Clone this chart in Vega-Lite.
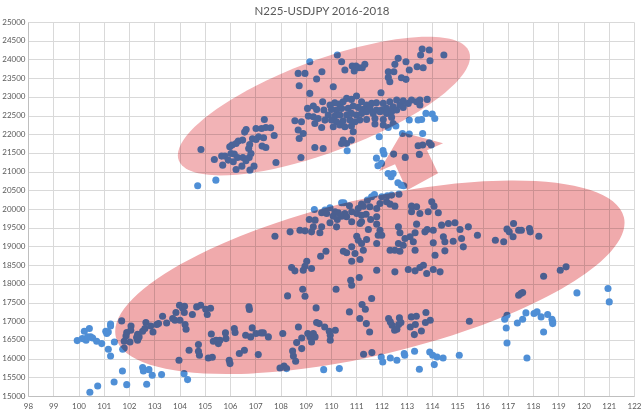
{
"$schema": "https://vega.github.io/schema/vega-lite/v6.json",
"width": 606, "height": 374,
"autosize": {"type": "none"},
"padding": {"left": 28, "top": 22, "right": 10, "bottom": 17},
"background": "white",
"title": {"text": "N225-USDJPY  2016-2018", "fontSize": 11.5, "font": "Lato", "fontWeight": "normal", "color": "#595959", "anchor": "middle", "dx": -9, "offset": 1},
"config": {"view": {"stroke": null},
  "axis": {"grid": true, "gridColor": "#d9d9d9", "gridWidth": 1, "domainColor": "#bfbfbf", "ticks": false, "labelFont": "Lato", "labelFontSize": 8, "labelColor": "#595959", "title": null, "labelOverlap": false}},
"datasets": {
"shapes": [
 {"shape": "upper ellipse", "usdjpy": 109.72, "n225": 22752},
 {"shape": "lower ellipse", "usdjpy": 111.54, "n225": 18176},
 {"shape": "arrow", "usdjpy": 113.17, "n225": 21387}
],
"points": [
{"usdjpy":108.70,"n225":23626},{"usdjpy":108.97,"n225":23626},{"usdjpy":109.64,"n225":23671},{"usdjpy":109.43,"n225":23474},{"usdjpy":108.74,"n225":23296},{"usdjpy":109.16,"n225":23091},{"usdjpy":109.67,"n225":22868},{"usdjpy":109.30,"n225":22752},{"usdjpy":109.07,"n225":22690},{"usdjpy":109.43,"n225":22663},{"usdjpy":109.72,"n225":22645},{"usdjpy":109.10,"n225":22484},{"usdjpy":109.30,"n225":22467},{"usdjpy":109.49,"n225":22422},{"usdjpy":109.76,"n225":22377},{"usdjpy":108.57,"n225":22360},{"usdjpy":108.83,"n225":22333},{"usdjpy":109.36,"n225":22288},{"usdjpy":109.63,"n225":22181},{"usdjpy":108.70,"n225":22110},{"usdjpy":108.90,"n225":22021},{"usdjpy":108.74,"n225":21887},{"usdjpy":109.36,"n225":21646},{"usdjpy":109.69,"n225":21619},{"usdjpy":108.81,"n225":21378},{"usdjpy":109.16,"n225":23938},
{"usdjpy":107.36,"n225":22395},{"usdjpy":107.03,"n225":22154},{"usdjpy":107.25,"n225":22154},{"usdjpy":107.42,"n225":22181},{"usdjpy":107.61,"n225":22172},{"usdjpy":106.64,"n225":22128},{"usdjpy":106.58,"n225":22056},{"usdjpy":107.75,"n225":21967},{"usdjpy":107.13,"n225":21931},{"usdjpy":107.33,"n225":21905},{"usdjpy":106.89,"n225":21878},{"usdjpy":107.03,"n225":21860},{"usdjpy":106.50,"n225":21842},{"usdjpy":106.33,"n225":21815},{"usdjpy":106.24,"n225":21753},{"usdjpy":106.08,"n225":21708},{"usdjpy":105.99,"n225":21664},{"usdjpy":106.78,"n225":21726},{"usdjpy":107.27,"n225":21682},{"usdjpy":107.42,"n225":21646},{"usdjpy":104.85,"n225":21593},{"usdjpy":106.74,"n225":21619},{"usdjpy":106.04,"n225":21485},{"usdjpy":106.17,"n225":21468},{"usdjpy":105.80,"n225":21414},{"usdjpy":105.67,"n225":21414},{"usdjpy":106.30,"n225":21378},{"usdjpy":106.83,"n225":21485},{"usdjpy":106.51,"n225":21378},{"usdjpy":106.76,"n225":21378},{"usdjpy":105.38,"n225":21325},{"usdjpy":105.93,"n225":21307},{"usdjpy":106.13,"n225":21262},{"usdjpy":106.63,"n225":21289},{"usdjpy":107.82,"n225":21245},{"usdjpy":105.71,"n225":21173},{"usdjpy":106.47,"n225":21146},{"usdjpy":106.95,"n225":21146},{"usdjpy":106.24,"n225":21057},{"usdjpy":106.79,"n225":21039},{"usdjpy":105.44,"n225":20772},{"usdjpy":104.72,"n225":20620},
{"usdjpy":113.61,"n225":24278},{"usdjpy":113.89,"n225":24251},{"usdjpy":114.47,"n225":24117},{"usdjpy":113.55,"n225":24117},{"usdjpy":113.92,"n225":23965},{"usdjpy":112.66,"n225":24028},{"usdjpy":112.53,"n225":23867},{"usdjpy":112.97,"n225":23939},{"usdjpy":113.41,"n225":23805},{"usdjpy":113.65,"n225":23778},{"usdjpy":113.10,"n225":23716},{"usdjpy":112.27,"n225":23671},{"usdjpy":112.49,"n225":23671},{"usdjpy":112.79,"n225":23510},{"usdjpy":112.97,"n225":23466},{"usdjpy":112.27,"n225":23519},{"usdjpy":112.33,"n225":23403},
{"usdjpy":110.25,"n225":24117},{"usdjpy":110.42,"n225":23939},{"usdjpy":110.55,"n225":23716},{"usdjpy":110.84,"n225":23823},{"usdjpy":110.99,"n225":23823},{"usdjpy":111.10,"n225":23778},{"usdjpy":110.92,"n225":23689},{"usdjpy":111.24,"n225":23778},{"usdjpy":111.34,"n225":23867},{"usdjpy":110.09,"n225":23270},{"usdjpy":111.98,"n225":23109},
{"usdjpy":111.01,"n225":23020},{"usdjpy":110.81,"n225":22931},{"usdjpy":110.62,"n225":22957},{"usdjpy":110.48,"n225":22868},{"usdjpy":110.33,"n225":22806},{"usdjpy":110.15,"n225":22841},{"usdjpy":109.96,"n225":22779},{"usdjpy":111.21,"n225":22868},{"usdjpy":111.41,"n225":22779},{"usdjpy":111.61,"n225":22824},{"usdjpy":111.80,"n225":22841},{"usdjpy":112.07,"n225":22824},{"usdjpy":112.33,"n225":22868},{"usdjpy":112.60,"n225":22913},{"usdjpy":112.86,"n225":22895},{"usdjpy":113.19,"n225":22913},{"usdjpy":113.39,"n225":22868},{"usdjpy":113.52,"n225":22913},{"usdjpy":113.81,"n225":22931},{"usdjpy":113.52,"n225":22779},{"usdjpy":113.06,"n225":22824},{"usdjpy":112.73,"n225":22779},{"usdjpy":112.46,"n225":22734},{"usdjpy":112.20,"n225":22690},{"usdjpy":112.00,"n225":22645},{"usdjpy":111.80,"n225":22645},{"usdjpy":111.54,"n225":22690},{"usdjpy":111.28,"n225":22663},{"usdjpy":111.08,"n225":22717},{"usdjpy":110.88,"n225":22752},{"usdjpy":110.68,"n225":22690},{"usdjpy":110.42,"n225":22690},{"usdjpy":110.22,"n225":22645},{"usdjpy":110.02,"n225":22663},{"usdjpy":109.89,"n225":22511},{"usdjpy":110.15,"n225":22485},{"usdjpy":110.35,"n225":22511},{"usdjpy":110.62,"n225":22511},{"usdjpy":110.81,"n225":22556},{"usdjpy":111.01,"n225":22511},{"usdjpy":111.21,"n225":22556},{"usdjpy":111.41,"n225":22601},{"usdjpy":111.67,"n225":22556},{"usdjpy":111.94,"n225":22601},{"usdjpy":112.20,"n225":22556},{"usdjpy":112.40,"n225":22601},{"usdjpy":112.60,"n225":22645},{"usdjpy":112.86,"n225":22717},{"usdjpy":110.02,"n225":22378},{"usdjpy":110.22,"n225":22333},{"usdjpy":110.48,"n225":22360},{"usdjpy":110.75,"n225":22378},{"usdjpy":110.95,"n225":22333},{"usdjpy":111.14,"n225":22378},{"usdjpy":111.41,"n225":22395},{"usdjpy":111.74,"n225":22422},{"usdjpy":112.07,"n225":22395},{"usdjpy":112.40,"n225":22449},{"usdjpy":112.46,"n225":22288},{"usdjpy":112.07,"n225":22244},{"usdjpy":110.09,"n225":22199},{"usdjpy":110.35,"n225":22244},{"usdjpy":110.55,"n225":22199},{"usdjpy":110.81,"n225":22217},{"usdjpy":110.88,"n225":22065},{"usdjpy":111.74,"n225":22271},{"usdjpy":110.42,"n225":21753},{"usdjpy":110.62,"n225":21753},{"usdjpy":110.48,"n225":21842},{"usdjpy":110.81,"n225":21842},
{"usdjpy":113.76,"n225":22556},{"usdjpy":114.01,"n225":22538},{"usdjpy":114.11,"n225":22422},{"usdjpy":113.10,"n225":22378},{"usdjpy":113.45,"n225":22378},{"usdjpy":113.59,"n225":22395},{"usdjpy":112.57,"n225":22217},{"usdjpy":112.27,"n225":22181},{"usdjpy":111.91,"n225":21932},{"usdjpy":110.64,"n225":21557},{"usdjpy":112.83,"n225":22021},{"usdjpy":113.10,"n225":22003},{"usdjpy":113.63,"n225":22021},
{"usdjpy":113.45,"n225":21690},{"usdjpy":113.63,"n225":21710},{"usdjpy":113.89,"n225":21770},{"usdjpy":113.97,"n225":21710},{"usdjpy":113.50,"n225":21460},{"usdjpy":112.94,"n225":21380},{"usdjpy":112.48,"n225":21468},{"usdjpy":112.06,"n225":21560},{"usdjpy":112.10,"n225":21470},{"usdjpy":111.80,"n225":21360},
{"usdjpy":111.86,"n225":21155},{"usdjpy":112.00,"n225":21219},{"usdjpy":112.26,"n225":20951},{"usdjpy":112.38,"n225":20860},{"usdjpy":112.46,"n225":20951},{"usdjpy":112.65,"n225":20700},{"usdjpy":112.78,"n225":20638},{"usdjpy":112.88,"n225":20620},
{"usdjpy":109.34,"n225":19987},{"usdjpy":109.63,"n225":19898},{"usdjpy":109.76,"n225":19969},{"usdjpy":109.96,"n225":20032},{"usdjpy":110.16,"n225":19925},{"usdjpy":110.42,"n225":20165},{"usdjpy":110.51,"n225":20165},{"usdjpy":110.73,"n225":20085},{"usdjpy":111.21,"n225":20130},{"usdjpy":111.44,"n225":20237},{"usdjpy":111.61,"n225":20326},{"usdjpy":111.72,"n225":20388},{"usdjpy":112.01,"n225":20326},{"usdjpy":112.23,"n225":20353},{"usdjpy":112.40,"n225":20371},{"usdjpy":112.69,"n225":20397},
{"usdjpy":109.14,"n225":19719},{"usdjpy":109.37,"n225":19702},{"usdjpy":109.83,"n225":19880},{"usdjpy":110.09,"n225":19809},{"usdjpy":110.29,"n225":19898},{"usdjpy":110.55,"n225":19880},{"usdjpy":110.82,"n225":19925},{"usdjpy":111.08,"n225":20014},{"usdjpy":111.28,"n225":20076},{"usdjpy":111.54,"n225":20058},{"usdjpy":111.81,"n225":20014},{"usdjpy":111.94,"n225":20148},{"usdjpy":112.20,"n225":20192},{"usdjpy":112.34,"n225":20130},{"usdjpy":112.53,"n225":20076},{"usdjpy":113.19,"n225":20076},{"usdjpy":113.39,"n225":20058},{"usdjpy":113.99,"n225":20192},{"usdjpy":114.08,"n225":20076},{"usdjpy":113.85,"n225":19925},{"usdjpy":113.52,"n225":19880},{"usdjpy":113.19,"n225":19925},{"usdjpy":114.25,"n225":19898},{"usdjpy":109.96,"n225":19630},{"usdjpy":110.25,"n225":19719},{"usdjpy":110.42,"n225":19809},{"usdjpy":110.62,"n225":19791},{"usdjpy":110.82,"n225":19657},{"usdjpy":111.21,"n225":19657},{"usdjpy":111.39,"n225":19862},{"usdjpy":111.57,"n225":19719},{"usdjpy":111.81,"n225":19791},{"usdjpy":111.21,"n225":19835},{"usdjpy":111.02,"n225":19880},{"usdjpy":108.38,"n225":19389},{"usdjpy":108.77,"n225":19434},{"usdjpy":108.97,"n225":19416},{"usdjpy":109.30,"n225":19523},{"usdjpy":109.23,"n225":19389},{"usdjpy":109.63,"n225":19523},{"usdjpy":109.56,"n225":19363},{"usdjpy":110.22,"n225":19523},{"usdjpy":111.15,"n225":19612},{"usdjpy":111.48,"n225":19452},{"usdjpy":111.81,"n225":19595},{"usdjpy":112.67,"n225":19523},{"usdjpy":113.39,"n225":19595},{"usdjpy":113.81,"n225":19452},{"usdjpy":113.72,"n225":19389},{"usdjpy":114.05,"n225":19434},{"usdjpy":114.38,"n225":19568},{"usdjpy":114.65,"n225":19612},{"usdjpy":114.91,"n225":19630},{"usdjpy":115.11,"n225":19452},{"usdjpy":115.44,"n225":19523},{"usdjpy":115.80,"n225":19300},{"usdjpy":111.94,"n225":19434},{"usdjpy":112.01,"n225":19300},{"usdjpy":112.73,"n225":19363},{"usdjpy":113.33,"n225":19363},{"usdjpy":113.13,"n225":19256},{"usdjpy":112.93,"n225":19211},{"usdjpy":111.02,"n225":19273},{"usdjpy":111.08,"n225":19166},{"usdjpy":111.41,"n225":19184},{"usdjpy":111.21,"n225":19077},{"usdjpy":111.81,"n225":19077},{"usdjpy":111.87,"n225":19300},{"usdjpy":112.67,"n225":19077},{"usdjpy":112.86,"n225":19033},{"usdjpy":113.26,"n225":19122},{"usdjpy":113.33,"n225":18899},{"usdjpy":112.73,"n225":18872},{"usdjpy":112.53,"n225":18899},{"usdjpy":112.34,"n225":18899},{"usdjpy":110.82,"n225":18988},{"usdjpy":110.49,"n225":18872},{"usdjpy":110.62,"n225":18828},{"usdjpy":110.95,"n225":18810},{"usdjpy":111.28,"n225":18899},{"usdjpy":109.80,"n225":18872},{"usdjpy":109.59,"n225":18738},{"usdjpy":114.05,"n225":19095},{"usdjpy":114.45,"n225":19256},{"usdjpy":114.51,"n225":19122},{"usdjpy":114.84,"n225":19140},{"usdjpy":115.17,"n225":19211},{"usdjpy":115.24,"n225":18988},{"usdjpy":114.51,"n225":18881},{"usdjpy":109.04,"n225":18604},{"usdjpy":108.97,"n225":18471},{"usdjpy":108.44,"n225":18435},{"usdjpy":108.57,"n225":18346},{"usdjpy":108.90,"n225":18364},{"usdjpy":109.23,"n225":18408},{"usdjpy":110.82,"n225":18604},{"usdjpy":111.15,"n225":18649},{"usdjpy":111.81,"n225":18364},{"usdjpy":112.53,"n225":18319},{"usdjpy":113.06,"n225":18381},{"usdjpy":113.33,"n225":18346},{"usdjpy":113.52,"n225":18435},{"usdjpy":113.66,"n225":18497},{"usdjpy":114.05,"n225":18381},{"usdjpy":113.79,"n225":18274},{"usdjpy":114.12,"n225":18765},{"usdjpy":114.32,"n225":18319},{"usdjpy":111.12,"n225":18167},{"usdjpy":110.78,"n225":18096},{"usdjpy":110.82,"n225":17962},{"usdjpy":108.88,"n225":17855},{"usdjpy":110.20,"n225":17855},{"usdjpy":108.97,"n225":17668},{"usdjpy":108.28,"n225":17677},{"usdjpy":111.61,"n225":17605},
{"usdjpy":99.95,"n225":16481},{"usdjpy":100.15,"n225":16535},{"usdjpy":100.23,"n225":16731},{"usdjpy":100.30,"n225":16490},{"usdjpy":100.36,"n225":16580},{"usdjpy":100.43,"n225":16803},{"usdjpy":100.48,"n225":16580},{"usdjpy":100.56,"n225":16553},{"usdjpy":100.72,"n225":16464},{"usdjpy":100.92,"n225":16401},{"usdjpy":101.08,"n225":16731},{"usdjpy":101.18,"n225":16713},{"usdjpy":101.27,"n225":16874},{"usdjpy":101.27,"n225":16927},{"usdjpy":101.12,"n225":16669},{"usdjpy":101.42,"n225":16446},{"usdjpy":101.18,"n225":16250},{"usdjpy":101.27,"n225":16071},{"usdjpy":101.41,"n225":15375},{"usdjpy":100.76,"n225":15268},{"usdjpy":100.45,"n225":15099},{"usdjpy":101.91,"n225":15304},{"usdjpy":101.74,"n225":15670},{"usdjpy":102.54,"n225":15759},{"usdjpy":102.57,"n225":15670},{"usdjpy":102.79,"n225":15705},{"usdjpy":102.92,"n225":15554},{"usdjpy":102.70,"n225":15313},{"usdjpy":103.29,"n225":15572},{"usdjpy":104.18,"n225":15598},{"usdjpy":104.32,"n225":15438},
{"usdjpy":101.71,"n225":17008},{"usdjpy":102.08,"n225":16874},{"usdjpy":102.07,"n225":16758},{"usdjpy":101.91,"n225":16696},{"usdjpy":101.88,"n225":16606},{"usdjpy":102.04,"n225":16446},{"usdjpy":101.81,"n225":16464},{"usdjpy":101.75,"n225":16250},{"usdjpy":101.81,"n225":16285},{"usdjpy":102.34,"n225":16651},{"usdjpy":102.40,"n225":16580},{"usdjpy":102.67,"n225":16963},{"usdjpy":102.63,"n225":16803},{"usdjpy":102.54,"n225":16731},{"usdjpy":102.30,"n225":16562},{"usdjpy":102.34,"n225":16490},{"usdjpy":102.86,"n225":16874},{"usdjpy":102.95,"n225":16713},{"usdjpy":103.10,"n225":16910},{"usdjpy":103.33,"n225":17133},{"usdjpy":103.17,"n225":16936},{"usdjpy":103.49,"n225":16954},{"usdjpy":103.73,"n225":17070},{"usdjpy":103.86,"n225":17231},{"usdjpy":103.82,"n225":17026},{"usdjpy":104.00,"n225":17427},{"usdjpy":104.12,"n225":17356},{"usdjpy":104.19,"n225":17231},{"usdjpy":104.02,"n225":17026},{"usdjpy":104.22,"n225":16910},{"usdjpy":104.26,"n225":16785},{"usdjpy":104.20,"n225":17400},{"usdjpy":104.51,"n225":17177},{"usdjpy":104.68,"n225":17383},{"usdjpy":104.84,"n225":17427},{"usdjpy":105.04,"n225":17320},{"usdjpy":105.10,"n225":17177},{"usdjpy":105.26,"n225":16660},{"usdjpy":105.30,"n225":16036},{"usdjpy":105.23,"n225":17347},{"usdjpy":105.14,"n225":16018},{"usdjpy":104.75,"n225":16374},{"usdjpy":104.75,"n225":16196},{"usdjpy":104.79,"n225":16089},{"usdjpy":104.38,"n225":16223},{"usdjpy":103.98,"n225":15955},{"usdjpy":105.54,"n225":16401},{"usdjpy":105.45,"n225":16490},{"usdjpy":105.34,"n225":16464},{"usdjpy":105.84,"n225":16535},{"usdjpy":105.82,"n225":16687},{"usdjpy":105.60,"n225":16490},{"usdjpy":105.97,"n225":15955},{"usdjpy":106.00,"n225":15866},{"usdjpy":106.17,"n225":16803},{"usdjpy":106.20,"n225":16696},{"usdjpy":106.37,"n225":16134},{"usdjpy":106.57,"n225":16223},{"usdjpy":106.75,"n225":17383},{"usdjpy":106.77,"n225":17311},{"usdjpy":106.62,"n225":16624},{"usdjpy":106.82,"n225":16580},{"usdjpy":106.88,"n225":16821},{"usdjpy":107.03,"n225":16669},{"usdjpy":107.12,"n225":16107},{"usdjpy":107.23,"n225":16687},{"usdjpy":107.32,"n225":16687},{"usdjpy":107.52,"n225":16580},{"usdjpy":107.78,"n225":19273},{"usdjpy":107.98,"n225":15750},{"usdjpy":108.14,"n225":15804},{"usdjpy":108.24,"n225":15732},{"usdjpy":108.09,"n225":16669},{"usdjpy":108.51,"n225":16071},{"usdjpy":108.48,"n225":16205},{"usdjpy":108.64,"n225":16428},{"usdjpy":108.71,"n225":16847},{"usdjpy":108.84,"n225":16553},{"usdjpy":108.84,"n225":16267},{"usdjpy":108.60,"n225":15928},{"usdjpy":109.08,"n225":16669},{"usdjpy":109.17,"n225":16580},{"usdjpy":109.30,"n225":16669},{"usdjpy":109.37,"n225":16580},{"usdjpy":109.23,"n225":16446},{"usdjpy":109.43,"n225":16963},{"usdjpy":109.53,"n225":16936},{"usdjpy":109.41,"n225":17356},
{"usdjpy":116.97,"n225":19461},{"usdjpy":117.06,"n225":19389},{"usdjpy":117.23,"n225":19612},{"usdjpy":117.43,"n225":19434},{"usdjpy":117.54,"n225":19434},{"usdjpy":117.86,"n225":19479},{"usdjpy":117.89,"n225":19389},{"usdjpy":118.23,"n225":19273},{"usdjpy":116.51,"n225":19166},{"usdjpy":116.84,"n225":19122},{"usdjpy":117.21,"n225":19256},{"usdjpy":118.42,"n225":18203},{"usdjpy":119.08,"n225":18364},{"usdjpy":119.31,"n225":18453},{"usdjpy":117.43,"n225":17695},{"usdjpy":117.52,"n225":17739},{"usdjpy":117.59,"n225":17766},
{"usdjpy":119.74,"n225":17757},{"usdjpy":120.97,"n225":17873},{"usdjpy":121.02,"n225":17516},{"usdjpy":116.97,"n225":17160},{"usdjpy":116.88,"n225":17053},{"usdjpy":116.94,"n225":16820},{"usdjpy":116.97,"n225":16419},{"usdjpy":117.38,"n225":16954},{"usdjpy":117.59,"n225":17053},{"usdjpy":117.72,"n225":17222},{"usdjpy":117.76,"n225":16018},{"usdjpy":118.04,"n225":17204},{"usdjpy":118.16,"n225":17249},{"usdjpy":118.32,"n225":17115},{"usdjpy":118.42,"n225":16713},{"usdjpy":118.58,"n225":17177},{"usdjpy":118.75,"n225":17053},{"usdjpy":118.78,"n225":16981},{"usdjpy":118.78,"n225":16936},
{"usdjpy":110.73,"n225":17249},{"usdjpy":111.23,"n225":17445},{"usdjpy":111.36,"n225":17320},{"usdjpy":111.14,"n225":17070},{"usdjpy":111.40,"n225":16936},{"usdjpy":111.53,"n225":16713},{"usdjpy":111.29,"n225":16116},{"usdjpy":111.62,"n225":16160},{"usdjpy":112.28,"n225":17070},{"usdjpy":112.35,"n225":16981},{"usdjpy":112.42,"n225":16892},{"usdjpy":112.52,"n225":16758},{"usdjpy":112.71,"n225":17088},{"usdjpy":112.68,"n225":16910},{"usdjpy":112.77,"n225":16963},{"usdjpy":112.61,"n225":16785},{"usdjpy":113.18,"n225":17115},{"usdjpy":113.38,"n225":17133},{"usdjpy":113.14,"n225":16847},{"usdjpy":113.34,"n225":16910},{"usdjpy":113.58,"n225":16740},{"usdjpy":113.30,"n225":16642},{"usdjpy":113.76,"n225":17231},{"usdjpy":113.74,"n225":16963},{"usdjpy":113.93,"n225":17026},{"usdjpy":115.48,"n225":17000},{"usdjpy":109.75,"n225":16847},{"usdjpy":109.93,"n225":16731},{"usdjpy":110.17,"n225":16758},{"usdjpy":109.97,"n225":16624},{"usdjpy":109.97,"n225":16490},{"usdjpy":109.71,"n225":15705},{"usdjpy":110.33,"n225":15732},
{"usdjpy":111.99,"n225":16044},{"usdjpy":112.05,"n225":15911},{"usdjpy":112.35,"n225":16018},{"usdjpy":112.61,"n225":15955},{"usdjpy":112.90,"n225":16134},{"usdjpy":112.92,"n225":16089},{"usdjpy":113.31,"n225":16196},{"usdjpy":113.50,"n225":15714},{"usdjpy":113.91,"n225":16178},{"usdjpy":114.03,"n225":16089},{"usdjpy":114.20,"n225":16044},{"usdjpy":114.44,"n225":16018},{"usdjpy":114.09,"n225":15839},{"usdjpy":115.08,"n225":16089}
]},
"encoding": {
  "x": {"field": "usdjpy", "type": "quantitative", "scale": {"domain": [98, 122], "nice": false, "zero": false},
        "axis": {"values": [98,99,100,101,102,103,104,105,106,107,108,109,110,111,112,113,114,115,116,117,118,119,120,121,122], "format": "d", "labelPadding": 6, "labelFlush": false}},
  "y": {"field": "n225", "type": "quantitative", "scale": {"domain": [15000, 25000], "nice": false, "zero": false},
        "axis": {"values": [15000,15500,16000,16500,17000,17500,18000,18500,19000,19500,20000,20500,21000,21500,22000,22500,23000,23500,24000,24500,25000], "format": "d", "labelPadding": 3, "labelFlush": false}}
},
"layer": [
  {"data": {"name": "points"}, "mark": {"type": "point", "filled": true, "shape": "circle", "size": 50, "color": "#4f8fd6", "opacity": 1}},
  {"data": {"name": "shapes"}, "transform": [{"filter": "datum.shape == 'upper ellipse'"}],
   "mark": {"type": "point", "filled": true, "opacity": 1, "color": "#f2b3b6", "blend": "multiply", "size": 102400,
            "shape": "M -0.9074,0.3393 A 0.96875,0.2875,-20.5,0,1,0.9074,-0.3393 A 0.96875,0.2875,-20.5,0,1,-0.9074,0.3393 Z"}},
  {"data": {"name": "shapes"}, "transform": [{"filter": "datum.shape == 'lower ellipse'"}],
   "mark": {"type": "point", "filled": true, "opacity": 1, "color": "#f0aaac", "blend": "multiply", "size": 291600,
            "shape": "M -0.9408,0.2224 A 0.9667,0.2889,-13.3,0,1,0.9408,-0.2224 A 0.9667,0.2889,-13.3,0,1,-0.9408,0.2224 Z"}},
  {"data": {"name": "shapes"}, "transform": [{"filter": "datum.shape == 'arrow'"}],
   "mark": {"type": "point", "filled": true, "opacity": 1, "color": "#f0aaac", "blend": "multiply", "size": 6400,
            "shape": "M -0.225,-0.625 L 0.8,-0.35 L 0.4,-0.175 L 0.675,0.4 L -0.1,0.825 L -0.4,0.175 L -0.8,0.35 Z"}}
]
}
